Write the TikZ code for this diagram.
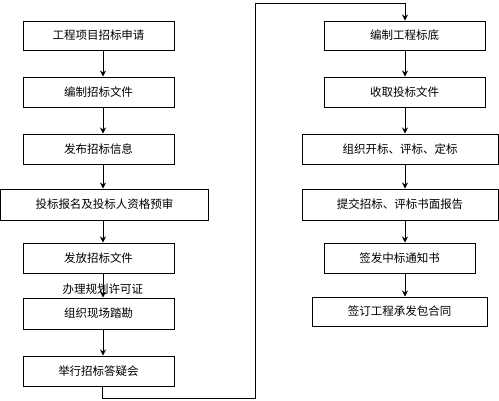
\documentclass[tikz,border=0pt]{standalone}
\usepackage{fontspec}
\setmainfont{Noto Sans CJK SC}
\usetikzlibrary{arrows.meta}
\begin{document}
\begin{tikzpicture}[x=1pt,y=-1pt,
  box/.style={draw=black,line width=1pt,minimum height=30pt,inner sep=0pt,font=\fontsize{11.5}{13}\selectfont},
  arr/.style={draw=black,line width=1pt,-{Stealth[length=6pt,width=6pt]}},
  lnk/.style={draw=black,line width=0.8pt}]
\useasboundingbox (0,0) rectangle (499,400);
% left column
\node[box,minimum width=151pt,minimum height=29pt] (b1) at (98.5,35.5) {工程项目招标申请};
\node[box,minimum width=151pt] (b2) at (98.5,92) {编制招标文件};
\node[box,minimum width=151pt] (b3) at (98.5,149) {发布招标信息};
\node[box,minimum width=208pt,minimum height=31pt] (b4) at (104.5,204.5) {投标报名及投标人资格预审};
\node[box,minimum width=151pt] (b5) at (98.5,258) {发放招标文件};
\node[box,minimum width=151pt,minimum height=31pt] (b6) at (98.5,313.5) {组织现场踏勘};
\node[box,minimum width=151pt] (b7) at (98.5,371) {举行招标答疑会};
\node[font=\fontsize{11.5}{13}\selectfont,inner sep=0pt] (lab) at (103,289) {办理规划许可证};
% right column
\node[box,minimum width=161pt,minimum height=29pt] (b8) at (404.5,35.5) {编制工程标底};
\node[box,minimum width=161pt] (b9) at (404.5,92) {收取投标文件};
\node[box,minimum width=196pt] (b10) at (400,149) {组织开标、评标、定标};
\node[box,minimum width=196pt,minimum height=31pt] (b11) at (400,204.5) {提交招标、评标书面报告};
\node[box,minimum width=151pt] (b12) at (399.5,258) {签发中标通知书};
\node[box,minimum width=175pt,minimum height=29pt] (b13) at (399.5,311.5) {签订工程承发包合同};
% arrow x positions
\coordinate (lx) at (103,0);
\coordinate (rx) at (405,0);
\foreach \a/\b in {b1/b2,b2/b3,b3/b4,b4/b5,b5/b6,b6/b7}{
  \draw[arr] (\a.south -| lx) -- (\b.north -| lx);
}
\foreach \a/\b in {b8/b9,b9/b10,b10/b11,b11/b12,b12/b13}{
  \draw[arr] (\a.south -| rx) -- (\b.north -| rx);
}
% link between columns
\coordinate (c1) at (102,398);
\coordinate (c2) at (255,398);
\coordinate (c3) at (255,3);
\coordinate (c4) at (405,3);
\draw[lnk] (b7.south -| c1) -- (c1) -- (c2) -- (c3) -- (c4);
\draw[arr] (c4) -- (b8.north -| c4);
\end{tikzpicture}
\end{document}
